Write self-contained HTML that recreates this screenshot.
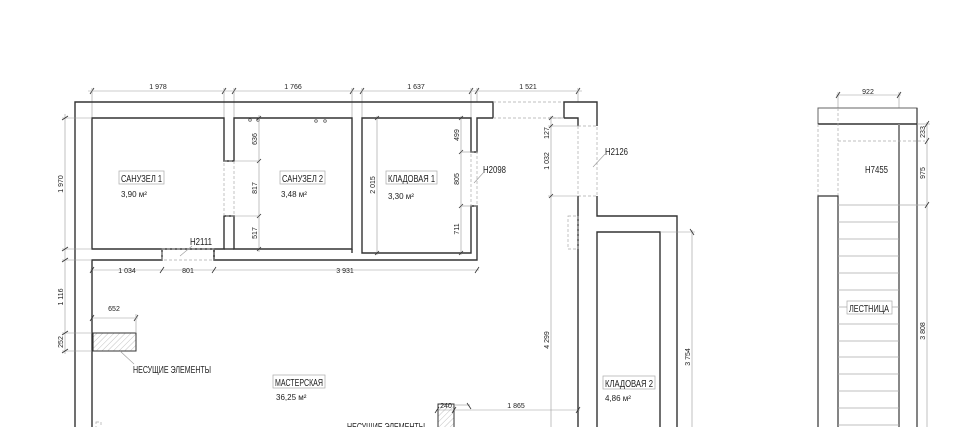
<!DOCTYPE html>
<html><head><meta charset="utf-8"><style>
html,body{margin:0;padding:0;background:#fff;width:955px;height:427px;overflow:hidden}
svg{display:block}
text{font-family:"Liberation Sans Narrow","Liberation Sans",sans-serif;fill:#222}
.d{font-size:7px}
.l{font-size:10px}
.w{stroke:#333;stroke-width:1.4;fill:none}
.g{stroke:#999;stroke-width:0.6;fill:none}
.dash{stroke:#aaa;stroke-width:0.7;stroke-dasharray:3 2;fill:none}
.t{stroke:#333;stroke-width:0.8}
.box{fill:#fff;stroke:#aaa;stroke-width:0.7}
</style></head><body>
<svg width="955" height="427" viewBox="0 0 955 427" xmlns="http://www.w3.org/2000/svg">
<defs><pattern id="h" width="4" height="4" patternUnits="userSpaceOnUse" patternTransform="rotate(45)"><line x1="0" y1="0" x2="0" y2="4" stroke="#999" stroke-width="0.6"/></pattern></defs>

<!-- top dims -->
<line class="g" x1="88" y1="91" x2="582" y2="91"/>
<g class="t">
<line x1="90" y1="94" x2="94" y2="88"/><line x1="222" y1="94" x2="226" y2="88"/>
<line x1="232" y1="94" x2="236" y2="88"/><line x1="350" y1="94" x2="354" y2="88"/>
<line x1="360" y1="94" x2="364" y2="88"/><line x1="469" y1="94" x2="473" y2="88"/>
<line x1="475" y1="94" x2="479" y2="88"/><line x1="576" y1="94" x2="580" y2="88"/>
</g>
<g class="g"><line x1="92" y1="88" x2="92" y2="118"/><line x1="224" y1="88" x2="224" y2="118"/><line x1="234" y1="88" x2="234" y2="118"/><line x1="352" y1="88" x2="352" y2="118"/><line x1="362" y1="88" x2="362" y2="118"/><line x1="471" y1="88" x2="471" y2="118"/><line x1="477" y1="88" x2="477" y2="102"/><line x1="578" y1="88" x2="578" y2="102"/></g>
<text class="d" x="158" y="89" text-anchor="middle">1 978</text>
<text class="d" x="293" y="89" text-anchor="middle">1 766</text>
<text class="d" x="416" y="89" text-anchor="middle">1 637</text>
<text class="d" x="528" y="89" text-anchor="middle">1 521</text>

<!-- outer walls -->
<polyline class="w" points="75,427 75,102 493,102 493,118"/>
<polyline class="w" points="92,427 92,260 162,260 162,249 92,249 92,118 224,118 224,161 234,161 234,118 352,118 352,249 234,249 234,216 224,216 224,249 162,249"/>
<polyline class="w" points="214,249 214,260 477,260 477,206 471,206 471,253 362,253 362,118 471,118 471,152 477,152 477,118 493,118"/>
<line class="w" x1="224" y1="249" x2="234" y2="249"/>
<line class="w" x1="352" y1="249" x2="352" y2="253"/>
<line class="w" x1="214" y1="249" x2="214" y2="260"/>
<rect class="dash" x="162" y="249" width="52" height="11"/>
<rect class="dash" x="224" y="161" width="10" height="55"/>
<rect class="dash" x="471" y="152" width="6" height="54"/>
<line class="dash" x1="493" y1="102" x2="564" y2="102"/><line class="dash" x1="493" y1="118" x2="564" y2="118"/>
<polyline class="w" points="564,118 564,102 597,102 597,126"/>
<polyline class="w" points="564,118 578,118 578,126"/>
<rect class="dash" x="578" y="126" width="19" height="70"/>
<polyline class="w" points="578,196 578,427"/>
<polyline class="w" points="597,196 597,216 677,216 677,427"/>
<polyline class="w" points="597,427 597,232 660,232 660,427"/>
<rect class="dash" x="568" y="216" width="10" height="33"/>

<g fill="none" stroke="#444" stroke-width="0.7"><circle cx="250" cy="120" r="1.3"/><circle cx="258" cy="120" r="1.3"/><circle cx="316" cy="121" r="1.3"/><circle cx="325" cy="121" r="1.3"/></g>

<!-- left dims -->
<line class="g" x1="65" y1="114" x2="65" y2="354"/>
<g class="g"><line x1="62" y1="118" x2="92" y2="118"/><line x1="62" y1="249" x2="92" y2="249"/><line x1="62" y1="260" x2="92" y2="260"/><line x1="62" y1="333" x2="92" y2="333"/><line x1="62" y1="351" x2="92" y2="351"/></g>
<g class="t"><line x1="62" y1="120" x2="68" y2="116"/><line x1="62" y1="251" x2="68" y2="247"/><line x1="62" y1="262" x2="68" y2="258"/><line x1="62" y1="335" x2="68" y2="331"/><line x1="62" y1="353" x2="68" y2="349"/></g>
<text class="d" transform="translate(63,184) rotate(-90)" text-anchor="middle">1 970</text>
<text class="d" transform="translate(63,297) rotate(-90)" text-anchor="middle">1 116</text>
<text class="d" transform="translate(63,342) rotate(-90)" text-anchor="middle">252</text>

<!-- bottom dims y270 -->
<line class="g" x1="90" y1="270" x2="479" y2="270"/>
<g class="t"><line x1="90" y1="273" x2="94" y2="267"/><line x1="160" y1="273" x2="164" y2="267"/><line x1="212" y1="273" x2="216" y2="267"/><line x1="475" y1="273" x2="479" y2="267"/></g>
<text class="d" x="127" y="273" text-anchor="middle">1 034</text>
<text class="d" x="188" y="273" text-anchor="middle">801</text>
<text class="d" x="345" y="273" text-anchor="middle">3 931</text>

<!-- sanuzel2 dims -->
<line class="g" x1="259" y1="115" x2="259" y2="252"/>
<g class="t"><line x1="257" y1="120" x2="261" y2="116"/><line x1="257" y1="163" x2="261" y2="159"/><line x1="257" y1="218" x2="261" y2="214"/><line x1="257" y1="251" x2="261" y2="247"/></g>
<g class="g"><line x1="234" y1="161" x2="259" y2="161"/><line x1="234" y1="216" x2="259" y2="216"/></g>
<text class="d" transform="translate(257,139) rotate(-90)" text-anchor="middle">636</text>
<text class="d" transform="translate(257,188) rotate(-90)" text-anchor="middle">817</text>
<text class="d" transform="translate(257,233) rotate(-90)" text-anchor="middle">517</text>

<!-- kladovaya1 dims -->
<line class="g" x1="377" y1="116" x2="377" y2="255"/>
<g class="t"><line x1="375" y1="120" x2="379" y2="116"/><line x1="375" y1="255" x2="379" y2="251"/></g>
<text class="d" transform="translate(375,185) rotate(-90)" text-anchor="middle">2 015</text>
<line class="g" x1="461" y1="116" x2="461" y2="255"/>
<g class="t"><line x1="459" y1="120" x2="463" y2="116"/><line x1="459" y1="154" x2="463" y2="150"/><line x1="459" y1="208" x2="463" y2="204"/><line x1="459" y1="255" x2="463" y2="251"/></g>
<g class="g"><line x1="461" y1="152" x2="471" y2="152"/><line x1="461" y1="206" x2="471" y2="206"/></g>
<text class="d" transform="translate(459,135) rotate(-90)" text-anchor="middle">499</text>
<text class="d" transform="translate(459,179) rotate(-90)" text-anchor="middle">805</text>
<text class="d" transform="translate(459,229) rotate(-90)" text-anchor="middle">711</text>

<!-- 4299 dims -->
<line class="g" x1="551" y1="116" x2="551" y2="427"/>
<g class="g"><line x1="548" y1="118" x2="564" y2="118"/><line x1="548" y1="126" x2="578" y2="126"/><line x1="548" y1="196" x2="578" y2="196"/></g>
<g class="t"><line x1="549" y1="120" x2="553" y2="116"/><line x1="549" y1="128" x2="553" y2="124"/><line x1="549" y1="198" x2="553" y2="194"/></g>
<text class="d" transform="translate(549,133) rotate(-90)" text-anchor="middle">127</text>
<text class="d" transform="translate(549,161) rotate(-90)" text-anchor="middle">1 032</text>
<text class="d" transform="translate(549,340) rotate(-90)" text-anchor="middle">4 299</text>
<line class="g" x1="692" y1="230" x2="692" y2="427"/><line class="g" x1="660" y1="232" x2="695" y2="232"/>
<line class="t" x1="690" y1="229" x2="694" y2="235"/>
<text class="d" transform="translate(690,357) rotate(-90)" text-anchor="middle">3 754</text>

<!-- door labels -->
<text class="l" x="190" y="245" textLength="22" lengthAdjust="spacingAndGlyphs">H2111</text><line class="g" x1="180" y1="256" x2="192" y2="246"/>
<text class="l" x="483" y="173" textLength="23" lengthAdjust="spacingAndGlyphs">H2098</text><line class="g" x1="474" y1="183" x2="484" y2="172"/>
<text class="l" x="605" y="155" textLength="23" lengthAdjust="spacingAndGlyphs">H2126</text><line class="g" x1="593" y1="167" x2="605" y2="154"/>

<!-- room labels -->
<rect class="box" x="119" y="171" width="45" height="13"/><text class="l" x="121" y="182" textLength="41" lengthAdjust="spacingAndGlyphs">САНУЗЕЛ 1</text>
<text class="d" x="121" y="197" style="font-size:8px">3,90 м²</text>
<rect class="box" x="280" y="171" width="45" height="13"/><text class="l" x="282" y="182" textLength="41" lengthAdjust="spacingAndGlyphs">САНУЗЕЛ 2</text>
<text class="d" x="281" y="197" style="font-size:8px">3,48 м²</text>
<rect class="box" x="386" y="171" width="51" height="13"/><text class="l" x="388" y="182" textLength="47" lengthAdjust="spacingAndGlyphs">КЛАДОВАЯ 1</text>
<text class="d" x="388" y="199" style="font-size:8px">3,30 м²</text>
<rect class="box" x="273" y="375" width="52" height="13"/><text class="l" x="275" y="386" textLength="48" lengthAdjust="spacingAndGlyphs">МАСТЕРСКАЯ</text>
<text class="d" x="276" y="400" style="font-size:8px">36,25 м²</text>
<rect class="box" x="603" y="376" width="52" height="13"/><text class="l" x="605" y="387" textLength="48" lengthAdjust="spacingAndGlyphs">КЛАДОВАЯ 2</text>
<text class="d" x="605" y="401" style="font-size:8px">4,86 м²</text>

<!-- pillar 1 -->
<rect x="93" y="333" width="43" height="18" fill="url(#h)" stroke="#333" stroke-width="1"/>
<line class="g" x1="92" y1="318" x2="138" y2="318"/>
<g class="t"><line x1="90" y1="321" x2="94" y2="315"/><line x1="134" y1="321" x2="138" y2="315"/></g>
<line class="g" x1="136" y1="314" x2="136" y2="333"/>
<text class="d" x="114" y="311" text-anchor="middle">652</text>
<line class="g" x1="120" y1="351" x2="134" y2="364"/>
<text class="l" x="133" y="373" textLength="78" lengthAdjust="spacingAndGlyphs">НЕСУЩИЕ ЭЛЕМЕНТЫ</text>

<!-- pillar 2 -->
<rect x="438" y="404" width="16" height="25" fill="url(#h)" stroke="#333" stroke-width="1"/>
<line class="g" x1="436" y1="410" x2="580" y2="410"/>
<g class="t"><line x1="435" y1="413" x2="439" y2="407"/><line x1="452" y1="413" x2="456" y2="407"/><line x1="576" y1="413" x2="580" y2="407"/></g>
<line class="g" x1="454" y1="405" x2="470" y2="405"/><line class="t" x1="467" y1="403" x2="471" y2="409"/>
<text class="d" x="446" y="408" text-anchor="middle">240</text>
<text class="d" x="516" y="408" text-anchor="middle">1 865</text>
<text class="l" x="347" y="430" textLength="78" lengthAdjust="spacingAndGlyphs">НЕСУЩИЕ ЭЛЕМЕНТЫ</text>
<rect x="96" y="422" width="5" height="6" class="dash"/>

<!-- stairs -->
<line class="g" x1="838" y1="92" x2="838" y2="108"/><line class="g" x1="899" y1="92" x2="899" y2="108"/>
<line class="g" x1="836" y1="95" x2="901" y2="95"/>
<g class="t"><line x1="836" y1="98" x2="840" y2="92"/><line x1="897" y1="98" x2="901" y2="92"/></g>
<text class="d" x="868" y="94" text-anchor="middle">922</text>
<rect x="818" y="108" width="99" height="16" fill="none" stroke="#666" stroke-width="1"/>
<line x1="818" y1="124" x2="917" y2="124" stroke="#333" stroke-width="1.4"/>
<line x1="917" y1="108" x2="917" y2="427" stroke="#333" stroke-width="1.2"/>
<line x1="899" y1="124" x2="899" y2="427" stroke="#888" stroke-width="2"/>
<line class="dash" x1="818" y1="124" x2="818" y2="196"/><line class="dash" x1="838" y1="108" x2="838" y2="196"/>
<line class="dash" x1="838" y1="141" x2="925" y2="141"/>
<polyline points="818,427 818,196 838,196 838,427" fill="none" stroke="#333" stroke-width="1.2"/>
<g stroke="#aaa" stroke-width="0.7">
<line x1="838" y1="205" x2="927" y2="205"/><line x1="838" y1="222" x2="899" y2="222"/><line x1="838" y1="239" x2="899" y2="239"/><line x1="838" y1="256" x2="899" y2="256"/><line x1="838" y1="273" x2="899" y2="273"/><line x1="838" y1="290" x2="899" y2="290"/><line x1="838" y1="307" x2="899" y2="307"/><line x1="838" y1="324" x2="899" y2="324"/><line x1="838" y1="341" x2="899" y2="341"/><line x1="838" y1="357" x2="899" y2="357"/><line x1="838" y1="374" x2="899" y2="374"/><line x1="838" y1="391" x2="899" y2="391"/><line x1="838" y1="408" x2="899" y2="408"/><line x1="838" y1="425" x2="899" y2="425"/>
</g>
<line class="g" x1="927" y1="122" x2="927" y2="427"/>
<line class="g" x1="917" y1="124" x2="930" y2="124"/>
<g class="t"><line x1="925" y1="127" x2="929" y2="121"/><line x1="925" y1="144" x2="929" y2="138"/><line x1="925" y1="208" x2="929" y2="202"/></g>
<text class="d" transform="translate(925,132) rotate(-90)" text-anchor="middle">233</text>
<text class="d" transform="translate(925,173) rotate(-90)" text-anchor="middle">975</text>
<text class="d" transform="translate(925,331) rotate(-90)" text-anchor="middle">3 808</text>
<text class="l" x="865" y="173" textLength="23" lengthAdjust="spacingAndGlyphs">H7455</text>
<rect class="box" x="847" y="301" width="45" height="13"/><text class="l" x="849" y="312" textLength="40" lengthAdjust="spacingAndGlyphs">ЛЕСТНИЦА</text>
</svg>
</body></html>
